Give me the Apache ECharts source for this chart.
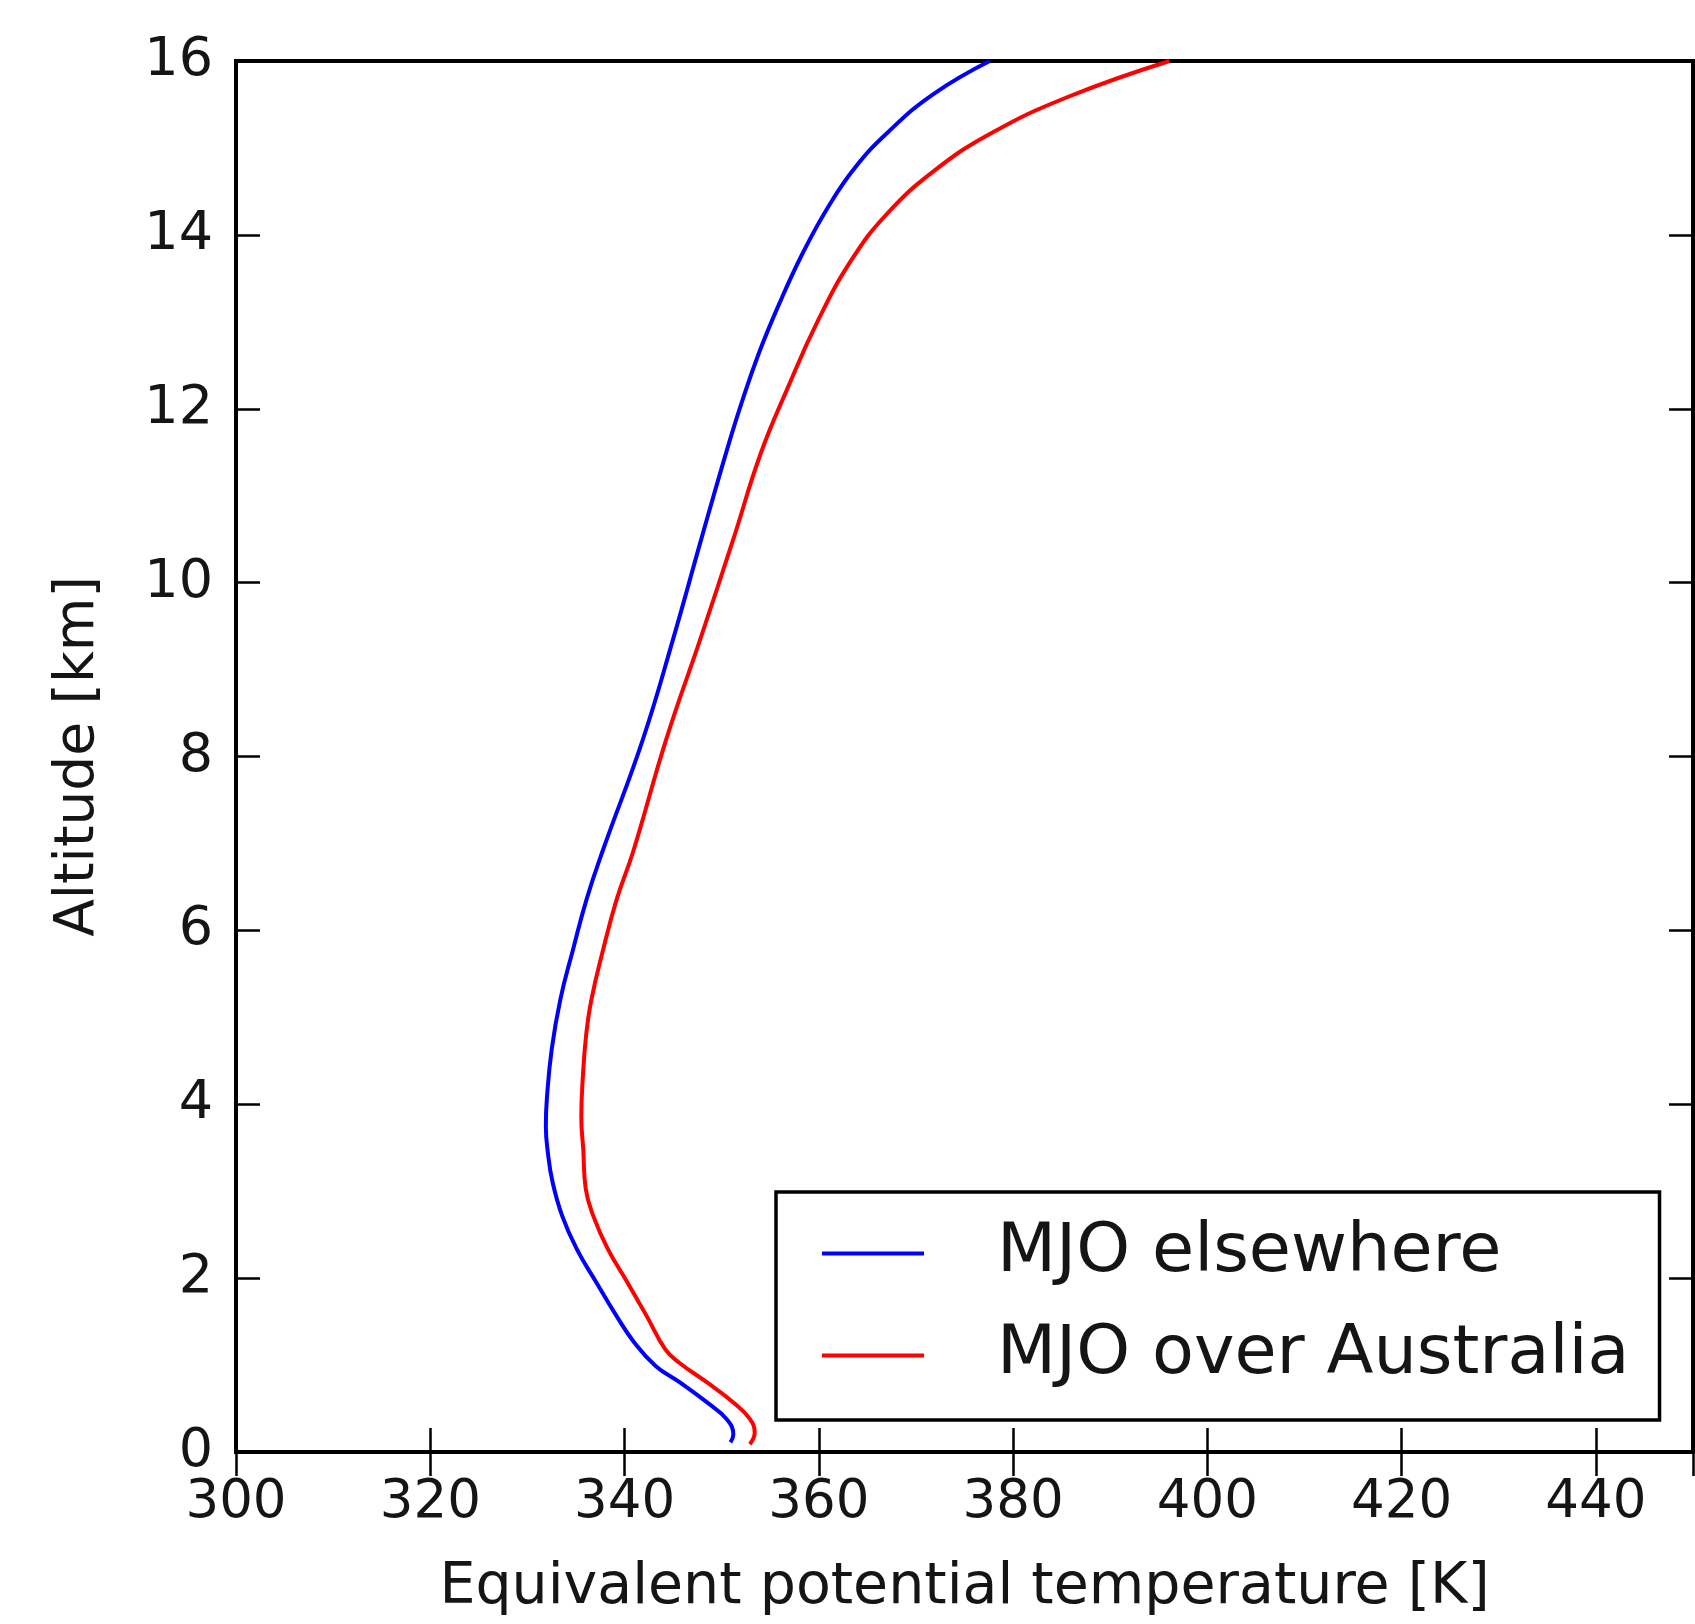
<!DOCTYPE html>
<html>
<head>
<meta charset="utf-8">
<script src="https://cdn.jsdelivr.net/npm/echarts@6/dist/echarts.min.js"></script>
<style>
html,body{margin:0;padding:0;background:#fff;}
#chart{width:1695px;height:1624px;}
</style>
</head>
<body>
<div id="chart"></div>
<script>
// Altitude [km]
const blueAlt = [0.11,0.20,0.38,0.57,0.80,0.99,1.26,1.56,1.95,2.33,2.71,3.10,3.45,3.75,4.06,4.63,5.21,5.78,6.36,6.93,8.20,9.35,10.50,11.51,12.05,12.63,13.20,13.78,14.31,14.77,15.19,15.62,16.0];
// Equivalent potential temperature [K], MJO elsewhere
const blueTheta = [350.9,351.2,350.5,348.5,345.7,343.2,341.0,339.2,337.1,335.1,333.6,332.6,332.1,331.9,332.0,332.5,333.4,334.7,336.1,337.8,341.9,345.0,347.9,350.5,352.0,353.8,355.9,358.3,360.9,363.7,367.2,371.8,377.6];

const redAlt = [0.09,0.22,0.38,0.57,0.80,1.03,1.18,1.56,1.95,2.33,2.71,3.03,3.48,3.85,4.30,4.80,5.21,5.78,6.36,6.91,8.20,9.35,10.50,11.48,12.24,13.01,13.70,14.24,14.73,15.16,15.58,16.0];
// Equivalent potential temperature [K], MJO over Australia
const redTheta = [352.9,353.4,352.9,351.2,348.5,345.6,344.2,342.3,340.3,338.3,336.8,336.0,335.75,335.55,335.7,336.05,336.6,337.8,339.2,340.9,344.3,347.8,351.2,354.0,356.8,359.9,363.3,367.0,371.8,377.6,385.5,396.1];

const seriesNames = ['MJO elsewhere', 'MJO over Australia'];
const xTicks = [300,320,340,360,380,400,420,440];
const yTicks = [0,2,4,6,8,10,12,14,16];
const xTitle = 'Equivalent potential temperature [K]';
const yTitle = 'Altitude [km]';

const FONT = 'DejaVu Sans';
const pair = (t, z) => t.map((v, i) => [v, z[i]]);

const tickStyle = {show:true, inside:true, length:24, lineStyle:{color:'#000', width:2.5}};
const xLabelFmt = v => xTicks.includes(v) ? String(v) : '';
const yLabelFmt = v => yTicks.includes(v) ? String(v) : '';

const chart = echarts.init(document.getElementById('chart'), null, {renderer:'canvas'});
chart.setOption({
  animation: false,
  backgroundColor: '#fff',
  grid: {left:236, top:61, width:1457, height:1391, show:true, borderColor:'#000', borderWidth:4, backgroundColor:'transparent'},
  xAxis: [
    {type:'value', min:300, max:450, interval:20, position:'bottom',
     name:xTitle, nameLocation:'middle', nameGap:108,
     nameTextStyle:{fontFamily:FONT, fontSize:57, color:'#151515'},
     axisLine:{show:false}, axisTick:tickStyle, splitLine:{show:false},
     axisLabel:{fontFamily:FONT, fontSize:53, color:'#151515', margin:25, showMaxLabel:false, formatter:xLabelFmt}},
    {type:'value', min:300, max:450, interval:20, position:'top',
     axisLine:{show:false}, axisTick:tickStyle, splitLine:{show:false},
     axisLabel:{show:false}}
  ],
  yAxis: [
    {type:'value', min:0, max:16, interval:2, position:'left',
     name:yTitle, nameLocation:'middle', nameGap:130,
     nameTextStyle:{fontFamily:FONT, fontSize:55, color:'#151515'},
     axisLine:{show:false}, axisTick:tickStyle, splitLine:{show:false},
     axisLabel:{fontFamily:FONT, fontSize:54, color:'#151515', margin:23, formatter:yLabelFmt}},
    {type:'value', min:0, max:16, interval:2, position:'right',
     axisLine:{show:false}, axisTick:tickStyle, splitLine:{show:false},
     axisLabel:{show:false}}
  ],
  legend: {
    orient:'vertical', left:776, top:1192,
    padding:[27,30,30,46], itemGap:33,
    itemWidth:102, itemHeight:4, icon:'rect',
    backgroundColor:'#fff', borderColor:'#000', borderWidth:3.5, borderRadius:0,
    align:'left',
    textStyle:{fontFamily:FONT, fontSize:68.5, color:'#151515', padding:[0,0,0,68]},
    data: seriesNames
  },
  series: [
    {name:seriesNames[0], type:'line', xAxisIndex:0, yAxisIndex:0, data:pair(blueTheta, blueAlt),
     showSymbol:false, smooth:0.45, lineStyle:{color:'#0000ff', width:4}, itemStyle:{color:'#0000ff'}},
    {name:seriesNames[1], type:'line', xAxisIndex:0, yAxisIndex:0, data:pair(redTheta, redAlt),
     showSymbol:false, smooth:0.45, lineStyle:{color:'#ff0000', width:4}, itemStyle:{color:'#ff0000'}}
  ]
});
</script>
</body>
</html>
